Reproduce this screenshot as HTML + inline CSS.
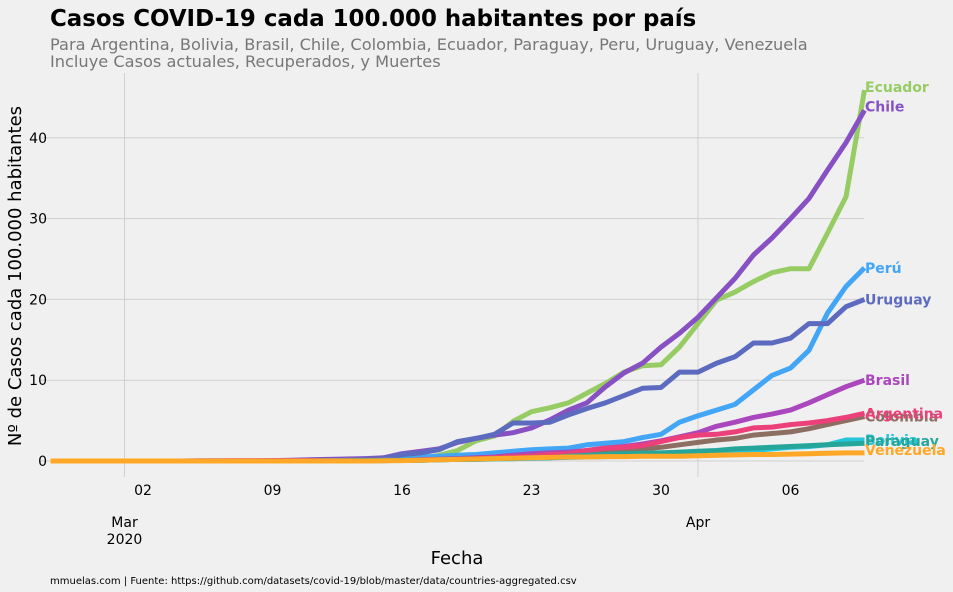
<!DOCTYPE html>
<html><head><meta charset="utf-8"><style>
body{margin:0;background:#f0f0f0;}
svg{display:block;font-family:"DejaVu Sans","Liberation Sans",sans-serif;}
</style></head><body>
<svg id="c" width="953" height="592" viewBox="0 0 953 592" xmlns="http://www.w3.org/2000/svg">
<rect width="953" height="592" fill="#f0f0f0"/>
<text x="50" y="26" font-size="22.9" font-weight="bold" fill="#000">Casos COVID-19 cada 100.000 habitantes por país</text>
<text x="50" y="50" font-size="16.2" fill="#777">Para Argentina, Bolivia, Brasil, Chile, Colombia, Ecuador, Paraguay, Peru, Uruguay, Venezuela</text>
<text x="50" y="67" font-size="16.2" fill="#777">Incluye Casos actuales, Recuperados, y Muertes</text>
<g id="grid"></g><g id="lines"></g><g id="labels"></g>
<text transform="translate(21,276) rotate(-90)" text-anchor="middle" font-size="18">Nº de Casos cada 100.000 habitantes</text>
<text x="457" y="564" text-anchor="middle" font-size="18">Fecha</text>
<text x="50" y="584" font-size="10">mmuelas.com  |  Fuente: https://github.com/datasets/covid-19/blob/master/data/countries-aggregated.csv</text>
</svg>
<script>
// days from Feb 26 (index 0) to Apr 10 (index 44); shorter arrays are right-aligned, padded with zeros
const countries=["Ecuador","Chile","Perú","Uruguay","Brasil","Colombia","Argentina","Bolivia","Paraguay","Venezuela"];
const colors=["#97cc64","#8751c4","#42a5f5","#5c6bc0","#ab47bc","#8d6e63","#ec407a","#26c6da","#26a69a","#ffa726"];
const ecuador=[0,0,0,0,0,0,0,0,0,0,0,0,0,0,0,0,0,0.05,0.1,0.15,0.3,0.7,1.3,2.5,3.1,4.9,6.1,6.6,7.2,8.4,9.6,11,11.8,11.9,14.1,17,19.9,20.9,22.2,23.3,23.8,23.8,28.2,32.7,45.9];
const chile=[0,0,0,0,0,0,0,0,0,0,0,0,0.05,0.1,0.15,0.2,0.25,0.3,0.4,0.9,1.2,1.5,2.3,2.8,3.2,3.5,4.1,5.1,6.3,7.2,9.2,10.9,12.1,14.1,15.8,17.8,20.2,22.6,25.5,27.6,30,32.5,36,39.4,43.4];
const peru=[0,0,0,0,0,0,0,0,0,0,0,0,0,0,0,0.05,0.1,0.1,0.2,0.3,0.5,0.6,0.7,0.8,1.0,1.2,1.4,1.5,1.6,2.0,2.2,2.4,2.9,3.3,4.8,5.6,6.3,7.0,8.8,10.6,11.5,13.7,18.3,21.6,23.9];
const uruguay=[0,0,0,0,0,0,0,0,0,0,0,0,0,0,0,0,0.1,0.2,0.3,0.8,1.0,1.4,2.4,2.8,3.3,4.7,4.7,4.8,5.7,6.5,7.2,8.1,9.0,9.1,11,11,12.1,12.9,14.6,14.6,15.2,17,17,19.1,20];
const brasil=[0,0,0,0,0,0,0.02,0.02,0.02,0.03,0.03,0.04,0.05,0.05,0.05,0.07,0.1,0.1,0.15,0.2,0.3,0.4,0.5,0.7,0.9,1.0,1.1,1.3,1.6,1.8,2.1,2.5,3.0,3.5,4.3,4.8,5.4,5.8,6.3,7.2,8.2,9.2,10];
const colombia=[0,0,0,0,0,0,0,0,0,0,0,0,0,0,0,0.02,0.03,0.05,0.05,0.1,0.1,0.2,0.2,0.3,0.4,0.5,0.6,0.8,0.9,1.1,1.3,1.4,1.5,1.7,2.0,2.3,2.6,2.8,3.2,3.4,3.6,4.0,4.5,5.0,5.5];
const argentina=[0,0,0,0,0,0,0,0.01,0.02,0.03,0.03,0.04,0.05,0.05,0.07,0.07,0.1,0.1,0.15,0.2,0.2,0.3,0.4,0.5,0.6,0.8,0.9,1.3,1.6,1.7,1.9,2.4,2.9,3.2,3.3,3.6,4.1,4.2,4.5,4.7,5.0,5.4,5.9];
const bolivia=[0,0,0,0,0,0,0,0,0,0,0,0,0,0,0.02,0.03,0.05,0.07,0.1,0.1,0.15,0.2,0.2,0.25,0.3,0.35,0.4,0.45,0.5,0.55,0.6,0.7,0.75,0.8,0.9,1.0,1.1,1.3,1.5,1.7,1.8,2.0,2.6,2.6];
const paraguay=[0,0,0,0,0,0,0,0,0,0,0,0,0,0,0.02,0.05,0.05,0.1,0.1,0.15,0.2,0.2,0.3,0.3,0.4,0.4,0.6,0.7,0.8,0.9,0.95,1.0,1.1,1.2,1.3,1.5,1.6,1.7,1.8,1.9,2.0,2.1,2.2];
const venezuela=[0,0,0,0,0,0,0,0,0,0,0,0,0,0,0,0,0.02,0.05,0.1,0.15,0.2,0.25,0.3,0.35,0.4,0.45,0.5,0.5,0.55,0.55,0.6,0.6,0.6,0.65,0.7,0.75,0.8,0.8,0.85,0.9,0.95,1.0,1.0];
const series=[ecuador,chile,peru,uruguay,brasil,colombia,argentina,bolivia,paraguay,venezuela];
const yTicks=[0,10,20,30,40];
const xTickDays=[5,12,19,26,33,40];
const xTickLabels=["02","09","16","23","30","06"];
const monthDays=[4,35];
const monthLabels=["Mar","Apr"];
const NDAYS=45;

const NS="http://www.w3.org/2000/svg";
const x0=50.5, dx=18.5;
const X=d=>x0+dx*d;
const Y=v=>461-8.08*v;
function mk(tag,attrs,parent){const e=document.createElementNS(NS,tag);for(const k in attrs)e.setAttribute(k,attrs[k]);parent.appendChild(e);return e;}
const grid=document.getElementById('grid'),lines=document.getElementById('lines'),labels=document.getElementById('labels');
yTicks.forEach(v=>{
  const l=mk('line',{x1:40,x2:864,y1:Y(v),y2:Y(v),stroke:'#d0d0d0','stroke-width':1},grid);
  
  
  const t=mk('text',{x:47,y:Y(v)+5,'text-anchor':'end','font-size':14},grid);
  t.textContent=v;
  
  
});
monthDays.forEach((d,i)=>{
  const l=mk('line',{x1:X(d),x2:X(d),y1:73,y2:477,stroke:'#d0d0d0','stroke-width':1},grid);
  
  
  const t=mk('text',{x:X(d),y:527,'text-anchor':'middle','font-size':14},grid);
  t.textContent=monthLabels[i];
  
  
});
const yr=mk('text',{x:X(monthDays[0]),y:544,'text-anchor':'middle','font-size':14},grid);
yr.textContent="2020";


xTickDays.forEach((d,i)=>{
  const t=mk('text',{x:X(d),y:495,'text-anchor':'middle','font-size':14},grid);
  t.textContent=xTickLabels[i];
  
  
});
function full(vals){const off=NDAYS-vals.length;const out=[];for(let i=0;i<NDAYS;i++)out.push(i<off?0:vals[i-off]);return out;}
const order=[0,1,2,3,4,5,6,7,8,9];
order.forEach(s=>{
  const vals=full(series[s]);
  const pts=vals.map((v,i)=>X(i).toFixed(1)+','+Y(v).toFixed(1)).join(' ');
  const p=mk('polyline',{points:pts,fill:'none',stroke:colors[s],'stroke-width':5,'stroke-linejoin':'round'},lines);
  
  
});
series.forEach((vals,s)=>{
  let y=Y(vals[vals.length-1]);
  if(s===0) y-=3;
  if(s===1) y-=4;
  if(s===8) y-=2;
  if(s===9) y-=3;
  const t=mk('text',{x:865,y:y+5,'font-size':14,'font-weight':'bold',fill:colors[s]},labels);
  t.textContent=countries[s];
  
  
});
</script>
</body></html>
